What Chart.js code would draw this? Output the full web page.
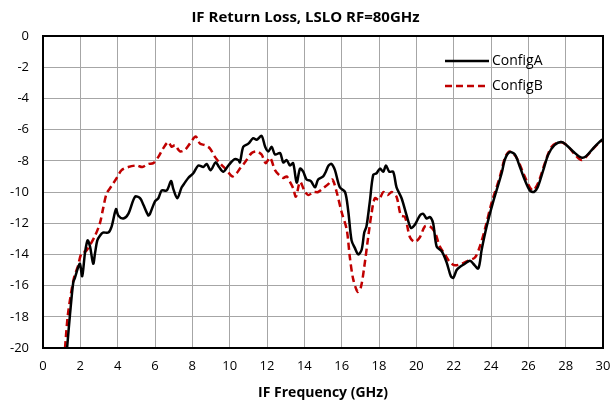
<!DOCTYPE html>
<html>
<head>
<meta charset="utf-8">
<title>IF Return Loss</title>
<script src="https://cdn.jsdelivr.net/npm/chart.js@4.4.0/dist/chart.umd.min.js"></script>
<style>
  html, body { margin: 0; padding: 0; background: #fff; }
  #box { width: 611px; height: 403px; }
</style>
</head>
<body>
<div id="box"><canvas id="grafico"></canvas></div>
<script>
// dados
const freqA = [1.29, 1.45, 1.62, 1.71, 1.89, 1.98, 2.1, 2.25, 2.39, 2.52, 2.69, 2.79, 2.91, 3.05, 3.21, 3.5, 3.68, 3.91, 4.03, 4.3,
  4.57, 4.93, 5.2, 5.37, 5.64, 5.73, 6.0, 6.18, 6.36, 6.63, 6.86, 6.98, 7.19, 7.43, 7.6, 7.78, 8.05, 8.32, 8.59, 8.77,
  8.98, 9.25, 9.43, 9.66, 9.93, 10.25, 10.46, 10.55, 10.73, 11.0, 11.26, 11.45, 11.71, 11.9, 12.07, 12.25, 12.43, 12.7, 12.87, 13.05,
  13.23, 13.4, 13.59, 13.77, 13.94, 14.12, 14.35, 14.57, 14.74, 15.01, 15.15, 15.3, 15.46, 15.64, 15.9, 16.18, 16.35, 16.53, 16.71, 16.89,
  17.07, 17.21, 17.33, 17.51, 17.69, 17.87, 18.05, 18.23, 18.37, 18.55, 18.76, 18.94, 19.21, 19.48, 19.71, 19.92, 20.19, 20.37, 20.55, 20.73,
  20.9, 21.09, 21.36, 21.62, 21.85, 21.98, 22.16, 22.33, 22.6, 22.87, 23.05, 23.32, 23.5, 23.77, 24.1, 24.57, 24.75, 25.0, 25.28, 25.55,
  25.8, 26.08, 26.3, 26.5, 26.8, 27.07, 27.4, 27.78, 28.05, 28.4, 28.85, 29.1, 29.47, 29.8, 30.0];
const lossA = [-20, -17.8, -15.8, -15.5, -14.8, -14.6, -15.4, -13.9, -13.1, -13.5, -14.6, -13.9, -13.1, -12.8, -12.6, -12.6, -12.2, -11.1, -11.5, -11.7,
  -11.4, -10.3, -10.4, -10.8, -11.5, -11.4, -10.6, -10.4, -9.9, -9.9, -9.3, -9.8, -10.4, -9.7, -9.4, -9.1, -8.8, -8.3, -8.4, -8.2,
  -8.6, -8.1, -8.4, -8.7, -8.3, -7.9, -7.95, -8.1, -7.1, -6.9, -6.55, -6.65, -6.4, -7.1, -7.4, -7.1, -7.6, -7.5, -8.1, -7.95,
  -8.3, -8.15, -9.4, -8.5, -8.7, -9.2, -9.3, -9.7, -9.2, -9.0, -8.7, -8.3, -8.2, -8.6, -9.7, -10.0, -11.2, -13.1, -13.6, -14.0,
  -13.7, -12.6, -12.2, -10.6, -8.9, -8.8, -8.5, -8.7, -8.3, -8.7, -8.7, -9.7, -10.4, -11.5, -12.3, -12.1, -11.5, -11.4, -11.7, -11.6,
  -12.0, -13.5, -13.8, -14.5, -15.4, -15.5, -15.0, -14.8, -14.6, -14.4, -14.6, -14.9, -13.7, -12.2, -10.7, -8.8, -7.9, -7.45, -7.6, -8.4,
  -9.2, -9.9, -10.0, -9.7, -8.6, -7.6, -7.0, -6.8, -7.0, -7.4, -7.8, -7.7, -7.2, -6.8, -6.6];

const freqB = [1.18, 1.32, 1.5, 1.68, 1.86, 2.07, 2.29, 2.52, 2.79, 3.05, 3.23, 3.41, 3.68, 3.95, 4.21, 4.57, 5.02, 5.32, 5.64, 5.91,
  6.18, 6.44, 6.71, 6.89, 7.07, 7.34, 7.6, 7.87, 8.18, 8.41, 8.68, 8.94, 9.21, 9.48, 9.84, 10.14, 10.37, 10.55, 10.82, 11.18,
  11.45, 11.71, 11.93, 12.16, 12.43, 12.64, 12.87, 13.05, 13.23, 13.4, 13.55, 13.77, 14.0, 14.21, 14.48, 14.74, 15.07, 15.28, 15.5, 15.73,
  16.0, 16.27, 16.44, 16.62, 16.86, 17.03, 17.21, 17.42, 17.61, 17.78, 18.0, 18.23, 18.46, 18.68, 18.94, 19.17, 19.39, 19.66, 19.92, 20.19,
  20.46, 20.73, 21.0, 21.26, 21.53, 21.8, 22.06, 22.42, 22.78, 23.14, 23.4, 23.67, 24.03, 24.48, 24.75, 25.0, 25.37, 25.73, 26.08, 26.26,
  26.53, 26.9, 27.25, 27.7, 28.05, 28.5, 28.85, 29.2, 29.57, 29.93];
const lossB = [-20, -18.0, -16.5, -15.4, -14.8, -13.9, -13.8, -13.4, -12.8, -12.0, -11.0, -10.1, -9.6, -9.1, -8.6, -8.4, -8.3, -8.4, -8.2, -8.15,
  -7.75, -7.2, -6.8, -7.1, -7.0, -7.4, -7.3, -6.9, -6.45, -6.9, -7.0, -7.2, -7.75, -8.15, -8.6, -9.0, -8.8, -8.5, -8.1, -7.5,
  -7.4, -7.6, -8.15, -7.8, -8.6, -8.9, -9.1, -9.0, -9.35, -9.75, -10.3, -9.35, -9.9, -10.2, -10.0, -10.0, -9.7, -9.5, -9.2, -10.0,
  -11.3, -12.4, -14.2, -15.6, -16.4, -16.1, -14.8, -12.9, -11.3, -10.4, -10.5, -10.0, -10.2, -10.0, -10.3, -11.5, -11.6, -12.9, -13.2, -12.9,
  -12.2, -12.2, -12.6, -13.5, -14.0, -14.5, -14.7, -14.6, -14.4, -14.2, -13.5, -12.4, -10.7, -9.0, -7.8, -7.4, -7.8, -8.8, -9.7, -9.9,
  -9.4, -8.1, -7.1, -6.8, -7.0, -7.6, -7.95, -7.6, -7.1, -6.7];

const nomes = ['ConfigA', 'ConfigB'];
const ticksX = [0, 30, 2];   // min, max, passo
const ticksY = [-20, 0, 2];

function pontos (xs, ys) {
  return xs.map((x, i) => ({ x: x, y: ys[i] }));
}

const fonte = "'Open Sans', sans-serif";

// borda preta do gráfico + legenda dentro da área
const molduraLegenda = {
  id: 'molduraLegenda',
  afterDatasetsDraw (chart) {
    const ctx = chart.ctx;
    const a = chart.chartArea;
    ctx.save();
    ctx.strokeStyle = '#000';
    ctx.lineWidth = 2;
    ctx.strokeRect(a.left, a.top, a.right - a.left, a.bottom - a.top);

    chart.data.datasets.forEach((ds, i) => {
      const y = 61 + i * 25;
      ctx.beginPath();
      ctx.strokeStyle = ds.borderColor;
      ctx.lineWidth = ds.borderWidth;
      ctx.setLineDash(ds.borderDash || []);
      ctx.moveTo(445, y);
      ctx.lineTo(489, y);
      ctx.stroke();
      ctx.setLineDash([]);
      ctx.fillStyle = '#000';
      ctx.font = "14px " + fonte;
      ctx.textBaseline = 'middle';
      ctx.fillText(ds.label, 492, y);
    });
    ctx.restore();
  }
};

new Chart(document.getElementById('grafico'), {
  type: 'scatter',
  data: {
    datasets: [
      {
        label: nomes[0],
        data: pontos(freqA, lossA),
        showLine: true,
        borderColor: '#000000',
        borderWidth: 2.5,
        pointRadius: 0,
        tension: 0.3
      },
      {
        label: nomes[1],
        data: pontos(freqB, lossB),
        showLine: true,
        borderColor: '#C00000',
        borderWidth: 2.5,
        borderDash: [7, 4],
        pointRadius: 0,
        tension: 0.3
      }
    ]
  },
  options: {
    responsive: true,
    maintainAspectRatio: false,
    animation: false,
    layout: { padding: { left: 0, right: 0, top: 0, bottom: 0 } },
    plugins: {
      legend: { display: false },
      tooltip: { enabled: false },
      title: {
        display: true,
        text: 'IF Return Loss, LSLO RF=80GHz',
        color: '#000',
        font: { family: fonte, size: 15, weight: 'bold' },
        padding: { top: 9, bottom: 9 }
      }
    },
    scales: {
      x: {
        type: 'linear',
        min: ticksX[0],
        max: ticksX[1],
        ticks: { stepSize: ticksX[2], color: '#000', font: { family: fonte, size: 13 }, padding: 10, maxRotation: 0 },
        grid: { color: '#a6a6a6', lineWidth: 1, drawTicks: false },
        border: { display: false },
        title: {
          display: true,
          text: 'IF Frequency (GHz)',
          color: '#000',
          font: { family: fonte, size: 14, weight: 'bold' },
          padding: { top: 6, bottom: 2 }
        },
        afterFit (scale) {
          scale.height = 55;
          scale.paddingLeft = 0;
          scale.paddingRight = 8;
        }
      },
      y: {
        min: ticksY[0],
        max: ticksY[1],
        ticks: { stepSize: ticksY[2], color: '#000', font: { family: fonte, size: 13 }, padding: 14 },
        grid: { color: '#a6a6a6', lineWidth: 1, drawTicks: false },
        border: { display: false },
        afterFit (scale) { scale.width = 43; }
      }
    }
  },
  plugins: [molduraLegenda]
});
</script>
</body>
</html>
